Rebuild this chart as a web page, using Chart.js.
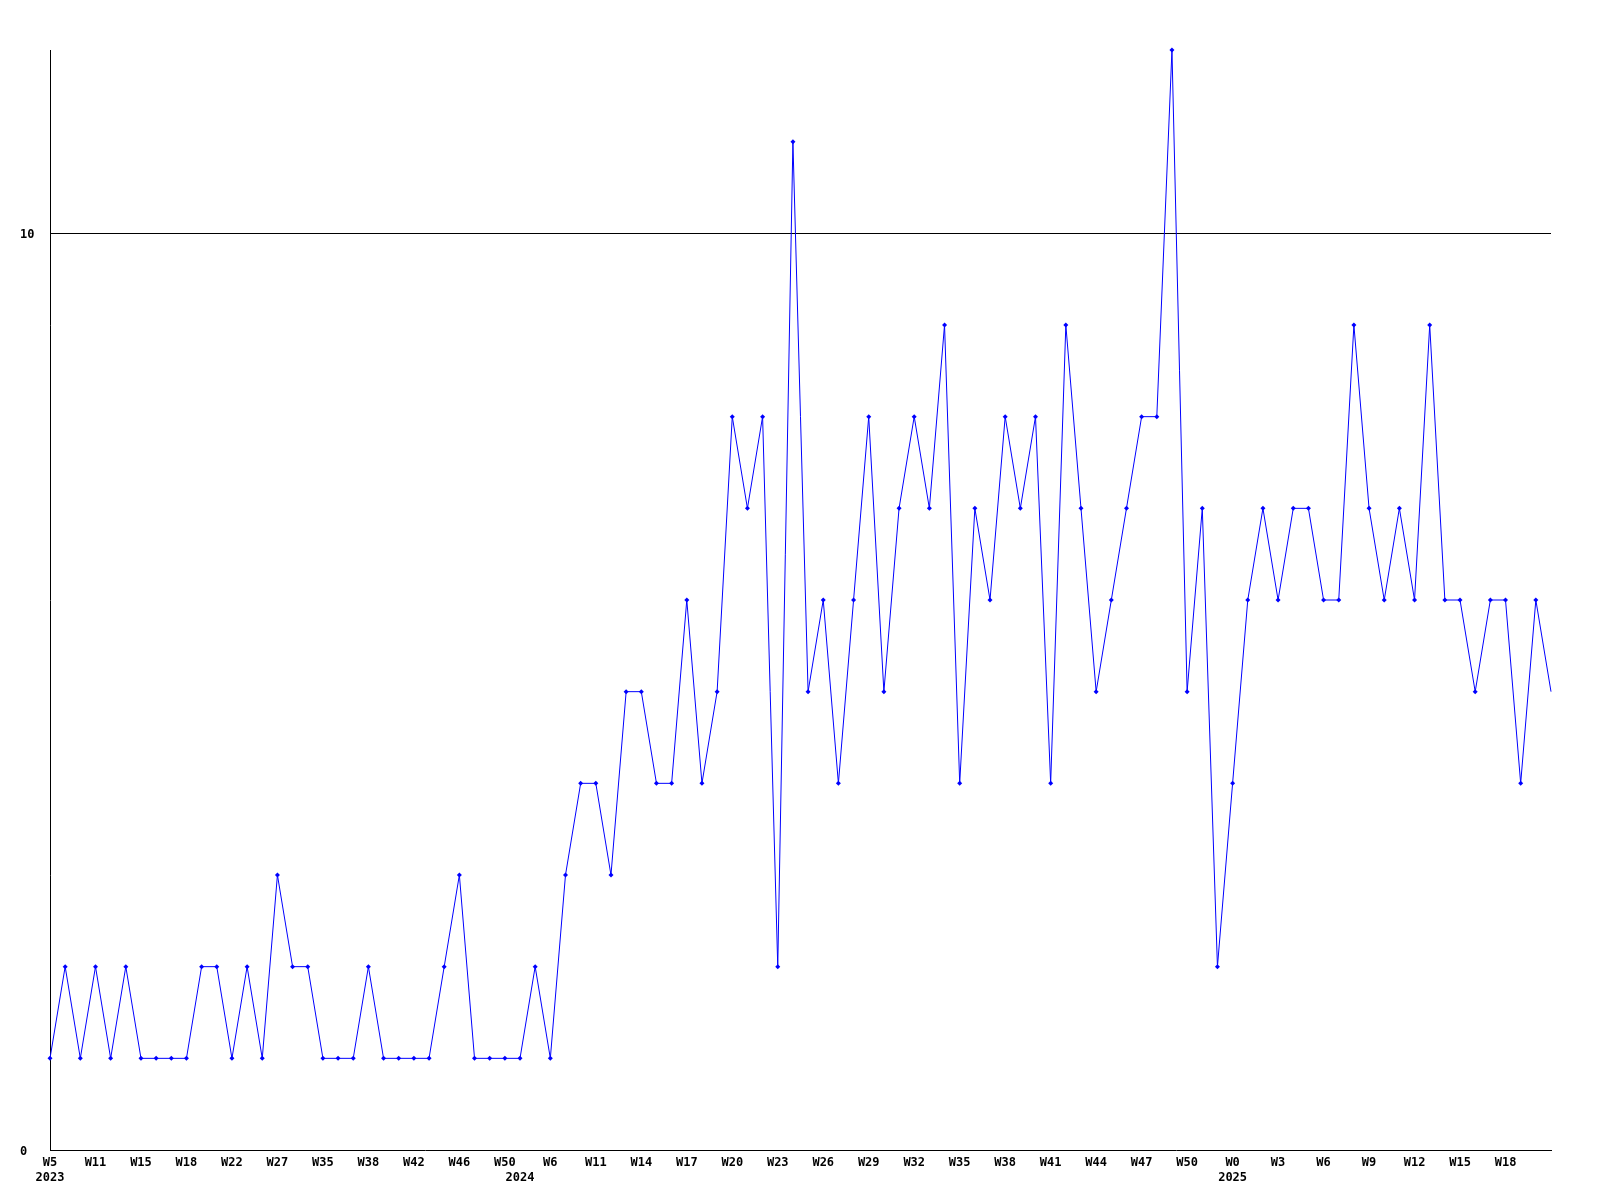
<!DOCTYPE html>
<html>
<head>
<meta charset="utf-8">
<script src="https://cdn.jsdelivr.net/npm/chart.js@4"></script>
<style>
  body { margin: 0; background: #fff; }
  #myChart { display: block; }
</style>
</head>
<body>
<canvas id="myChart" width="1600" height="1200"></canvas>
<script>
const ctx = document.getElementById('myChart');

// weekly counts, one per point
const counts = [
  1, 2, 1, 2, 1, 2, 1, 1, 1, 1,
  2, 2, 1, 2, 1, 3, 2, 2, 1, 1,
  1, 2, 1, 1, 1, 1, 2, 3, 1, 1,
  1, 1, 2, 1, 3, 4, 4, 3, 5, 5,
  4, 4, 6, 4, 5, 8, 7, 8, 2, 11,
  5, 6, 4, 6, 8, 5, 7, 8, 7, 9,
  4, 7, 6, 8, 7, 8, 4, 9, 7, 5,
  6, 7, 8, 8, 12, 5, 7, 2, 4, 6,
  7, 6, 7, 7, 6, 6, 9, 7, 6, 7,
  6, 9, 6, 6, 5, 6, 6, 4, 6, 5
];

// shown every third point
const weekTicks = [
  'W5', 'W11', 'W15', 'W18', 'W22', 'W27', 'W35', 'W38', 'W42', 'W46', 'W50',
  'W6', 'W11', 'W14', 'W17', 'W20', 'W23', 'W26', 'W29', 'W32', 'W35', 'W38',
  'W41', 'W44', 'W47', 'W50', 'W0', 'W3', 'W6', 'W9', 'W12', 'W15', 'W18'
];
const yearLabels = ['2023', '2024', '2025'];
const yearStart = [0, 31, 78];

const labels = counts.map((c, i) => i);
const last = counts.length - 1;

new Chart(ctx, {
  type: 'line',
  data: {
    labels: labels,
    datasets: [{
      data: counts,
      borderColor: '#0000ff',
      backgroundColor: '#0000ff',
      borderWidth: 1,
      tension: 0,
      fill: false,
      clip: false,
      pointStyle: 'rectRot',
      pointRadius: (c) => c.dataIndex === last ? 0 : 2.5,
      pointBorderWidth: 0
    }]
  },
  options: {
    responsive: false,
    animation: false,
    layout: {
      padding: { left: 20, top: 50, right: 49, bottom: 0 }
    },
    plugins: {
      legend: { display: false },
      tooltip: { enabled: false }
    },
    scales: {
      x: {
        offset: false,
        grid: { display: false, drawTicks: false },
        border: { display: true, color: '#000', width: 1 },
        afterFit: (s) => { s.height = 50; },
        ticks: {
          autoSkip: false,
          maxRotation: 0,
          minRotation: 0,
          padding: 5,
          color: '#000',
          font: { family: 'DejaVu Sans Mono', size: 12, weight: 'bold', lineHeight: 1.25 },
          callback: (value, index) => {
            const week = index % 3 === 0 ? (weekTicks[index / 3] || '') : '';
            const y = yearStart.indexOf(index);
            if (y >= 0) return [week, yearLabels[y]];
            return week;
          }
        }
      },
      y: {
        min: 0,
        max: 12,
        afterBuildTicks: (s) => { s.ticks = s.ticks.filter(t => t.value === 0 || t.value === 10); },
        afterFit: (s) => { s.width = 30; },
        grid: {
          drawTicks: false,
          color: (c) => c.tick && c.tick.value === 10 ? '#000' : 'rgba(0,0,0,0)',
          lineWidth: 1
        },
        border: { display: true, color: '#000', width: 1 },
        ticks: {
          stepSize: 10,
          crossAlign: 'far',
          padding: 0,
          labelOffset: 2,
          color: '#000',
          font: { family: 'DejaVu Sans Mono', size: 12, weight: 'bold' }
        }
      }
    }
  }
});
</script>
</body>
</html>
